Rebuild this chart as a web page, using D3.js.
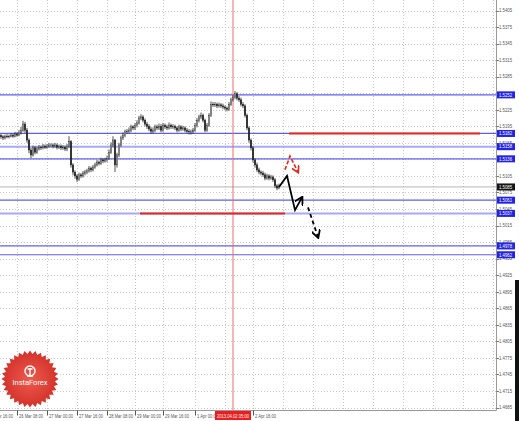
<!DOCTYPE html>
<html>
<head>
<meta charset="utf-8">
<script src="https://cdn.jsdelivr.net/npm/d3@7"></script>
<style>
  body { margin: 0; background: #fff; }
  svg { display: block; font-family: "Liberation Sans", Arial, sans-serif; }
</style>
</head>
<body>
<svg width="519" height="421"></svg>
<script>
  // GBPUSD bars, opens = previous close
  const firstOpen = 1.5178;
  const closes = [
    1.5176, 1.5174, 1.5177, 1.5176, 1.5177, 1.5179, 1.5177, 1.5181, 1.5179, 1.5183,
    1.5188, 1.5199, 1.5188, 1.5170, 1.5152, 1.5143, 1.5156, 1.5148, 1.5154, 1.5157,
    1.5156, 1.5159, 1.5157, 1.5159, 1.5161, 1.5161, 1.5159, 1.5161, 1.5157, 1.5159,
    1.5156, 1.5157, 1.5154, 1.5159, 1.5167, 1.5125, 1.5112, 1.5105, 1.5099, 1.5107,
    1.5105, 1.5110, 1.5112, 1.5114, 1.5119, 1.5116, 1.5121, 1.5125, 1.5130, 1.5128,
    1.5134, 1.5132, 1.5134, 1.5137, 1.5148, 1.5161, 1.5170, 1.5125, 1.5143, 1.5161,
    1.5174, 1.5179, 1.5185, 1.5186, 1.5188, 1.5194, 1.5192, 1.5197, 1.5201, 1.5210,
    1.5212, 1.5206, 1.5199, 1.5195, 1.5190, 1.5186, 1.5188, 1.5194, 1.5192, 1.5195,
    1.5188, 1.5197, 1.5194, 1.5192, 1.5197, 1.5194, 1.5195, 1.5192, 1.5188, 1.5194,
    1.5190, 1.5192, 1.5188, 1.5186, 1.5185, 1.5185, 1.5188, 1.5197, 1.5206, 1.5212,
    1.5215, 1.5206, 1.5188, 1.5197, 1.5215, 1.5235, 1.5234, 1.5235, 1.5232, 1.5234,
    1.5232, 1.5230, 1.5228, 1.5226, 1.5235, 1.5243, 1.5248, 1.5254, 1.5246, 1.5243,
    1.5235, 1.5232, 1.5215, 1.5192, 1.5170, 1.5156, 1.5134, 1.5125, 1.5116, 1.5112,
    1.5110, 1.5107, 1.5101, 1.5105, 1.5101, 1.5103, 1.5098, 1.5087, 1.5083, 1.5087
  ];
  const highs = [
    1.5181, 1.5179, 1.5180, 1.5181, 1.5180, 1.5183, 1.5182, 1.5185, 1.5184, 1.5188,
    1.5194, 1.5205, 1.5203, 1.5192, 1.5173, 1.5156, 1.5160, 1.5159, 1.5158, 1.5161,
    1.5160, 1.5163, 1.5162, 1.5163, 1.5165, 1.5164, 1.5164, 1.5165, 1.5164, 1.5162,
    1.5162, 1.5161, 1.5160, 1.5163, 1.5177, 1.5170, 1.5128, 1.5115, 1.5108, 1.5111,
    1.5110, 1.5114, 1.5116, 1.5118, 1.5123, 1.5122, 1.5125, 1.5129, 1.5134, 1.5133,
    1.5138, 1.5137, 1.5138, 1.5142, 1.5153, 1.5166, 1.5177, 1.5172, 1.5147, 1.5165,
    1.5178, 1.5184, 1.5189, 1.5190, 1.5193, 1.5198, 1.5197, 1.5201, 1.5206, 1.5214,
    1.5217, 1.5215, 1.5209, 1.5203, 1.5199, 1.5194, 1.5193, 1.5198, 1.5198, 1.5200,
    1.5199, 1.5201, 1.5200, 1.5198, 1.5202, 1.5200, 1.5199, 1.5198, 1.5195, 1.5198,
    1.5197, 1.5196, 1.5195, 1.5192, 1.5190, 1.5189, 1.5192, 1.5201, 1.5210, 1.5216,
    1.5220, 1.5218, 1.5209, 1.5201, 1.5219, 1.5240, 1.5239, 1.5239, 1.5238, 1.5238,
    1.5237, 1.5236, 1.5233, 1.5231, 1.5239, 1.5247, 1.5252, 1.5259, 1.5257, 1.5250,
    1.5247, 1.5239, 1.5235, 1.5218, 1.5195, 1.5173, 1.5159, 1.5137, 1.5129, 1.5120,
    1.5115, 1.5114, 1.5111, 1.5109, 1.5108, 1.5107, 1.5106, 1.5101, 1.5090, 1.5091
  ];
  const lows = [
    1.5172, 1.5170, 1.5171, 1.5173, 1.5173, 1.5175, 1.5174, 1.5175, 1.5176, 1.5177,
    1.5180, 1.5185, 1.5183, 1.5165, 1.5146, 1.5137, 1.5140, 1.5144, 1.5145, 1.5151,
    1.5152, 1.5153, 1.5154, 1.5154, 1.5156, 1.5157, 1.5155, 1.5156, 1.5153, 1.5154,
    1.5152, 1.5152, 1.5150, 1.5150, 1.5156, 1.5120, 1.5106, 1.5100, 1.5094, 1.5096,
    1.5101, 1.5102, 1.5106, 1.5108, 1.5111, 1.5112, 1.5113, 1.5118, 1.5122, 1.5124,
    1.5125, 1.5128, 1.5129, 1.5130, 1.5134, 1.5145, 1.5157, 1.5112, 1.5120, 1.5139,
    1.5158, 1.5170, 1.5175, 1.5181, 1.5182, 1.5184, 1.5188, 1.5188, 1.5193, 1.5198,
    1.5206, 1.5202, 1.5195, 1.5190, 1.5186, 1.5181, 1.5182, 1.5184, 1.5188, 1.5188,
    1.5184, 1.5185, 1.5190, 1.5188, 1.5189, 1.5190, 1.5190, 1.5188, 1.5184, 1.5185,
    1.5186, 1.5187, 1.5184, 1.5182, 1.5180, 1.5180, 1.5181, 1.5185, 1.5193, 1.5202,
    1.5208, 1.5202, 1.5184, 1.5185, 1.5194, 1.5212, 1.5230, 1.5230, 1.5228, 1.5229,
    1.5228, 1.5226, 1.5224, 1.5222, 1.5223, 1.5232, 1.5240, 1.5244, 1.5242, 1.5239,
    1.5231, 1.5228, 1.5211, 1.5188, 1.5165, 1.5151, 1.5129, 1.5120, 1.5112, 1.5108,
    1.5106, 1.5103, 1.5097, 1.5098, 1.5097, 1.5098, 1.5094, 1.5083, 1.5079, 1.5081
  ];

  const priceTicks = ['1.5405', '1.5375', '1.5345', '1.5315', '1.5285', '1.5255', '1.5225',
    '1.5195', '1.5165', '1.5135', '1.5105', '1.5075', '1.5045', '1.5015', '1.4985', '1.4955',
    '1.4925', '1.4895', '1.4865', '1.4835', '1.4805', '1.4775', '1.4745', '1.4715', '1.4685'];

  const timeLabels = ['25 Mar 16:00', '26 Mar 08:00', '27 Mar 00:00', '27 Mar 16:00', '28 Mar 08:00',
    '29 Mar 00:00', '29 Mar 16:00', '1 Apr 00:00', '2 Apr 16:00'];
  const timeBars = [-7, 8, 23, 38, 53, 67, 81, 97, 126];
  // grid columns keep going into the empty right side
  const gridBars = [8, 23, 38, 53, 67, 81, 97, 112, 126, 141, 156, 171, 186, 201, 216, 231, 246];

  // support / resistance levels
  const levels = [1.5252, 1.5182, 1.5158, 1.5136, 1.5061, 1.5037, 1.4978, 1.4962];
  const levelLabels = ['1.5252', '1.5182', '1.5158', '1.5136', '1.5061', '1.5037', '1.4978', '1.4962'];
  const bid = 1.5085;

  // red targets: [fromBar, toBar, price]
  const targets = [[144, 239.5, 1.5182], [69.5, 142, 1.5037]];

  // forecast paths: [bar, price]
  const forecastSolid = [[139, 1.5085], [143, 1.5105], [147, 1.5043], [150.5, 1.5066]];
  const forecastDashed = [[153.5, 1.5048], [158.5, 1.4994]];
  const forecastRed = [[142, 1.5116], [144.5, 1.5141], [148.5, 1.5112]];

  const markerBar = 116;
  const markerText = '2013.04.02 05:00';

  const svg = d3.select('svg');
  const width = +svg.attr('width');
  const height = +svg.attr('height');

  const plotRight = 496.5;
  const plotBottom = 410.5;

  const x = d3.scaleLinear().domain([0, 139]).range([1, 279]);
  const y = d3.scaleLinear().domain([1.4685, 1.5405]).range([407.5, 10.5]);

  svg.append('rect').attr('width', width).attr('height', height).attr('fill', '#fff');
  svg.append('rect').attr('x', 515).attr('y', 280).attr('width', 4).attr('height', height - 280).attr('fill', '#111');

  const defs = svg.append('defs');
  defs.append('clipPath').attr('id', 'plot')
    .append('rect').attr('width', plotRight).attr('height', plotBottom);
  ['black', 'red'].forEach(c => {
    defs.append('marker').attr('id', 'arrow-' + c)
      .attr('viewBox', '0 0 10 10').attr('refX', 8).attr('refY', 5)
      .attr('markerWidth', 5).attr('markerHeight', 5).attr('orient', 'auto')
      .append('path').attr('d', 'M0,0 L9,5 L0,10').attr('fill', 'none')
      .attr('stroke', c === 'red' ? '#e8261c' : '#000').attr('stroke-width', 2);
  });

  const plot = svg.append('g').attr('clip-path', 'url(#plot)');

  // grid
  plot.append('g').selectAll('line').data(priceTicks).enter().append('line')
    .attr('x1', 0).attr('x2', plotRight)
    .attr('y1', d => Math.round(y(+d)) + 0.5).attr('y2', d => Math.round(y(+d)) + 0.5)
    .attr('stroke', '#c8c8c8').attr('stroke-dasharray', '1,2');
  plot.append('g').selectAll('line').data(gridBars).enter().append('line')
    .attr('x1', d => Math.round(x(d)) + 0.5).attr('x2', d => Math.round(x(d)) + 0.5)
    .attr('y1', 0).attr('y2', plotBottom)
    .attr('stroke', '#c8c8c8').attr('stroke-dasharray', '1,2');

  // levels
  const light = new Set([1.5158, 1.5037]);
  plot.append('g').selectAll('line').data(levels).enter().append('line')
    .attr('x1', 0).attr('x2', plotRight)
    .attr('y1', d => y(d)).attr('y2', d => y(d))
    .attr('stroke', d => light.has(d) ? '#a8a8f8' : '#6060f0')
    .attr('stroke-width', d => light.has(d) ? 2 : 1.2);

  // bid line
  plot.append('line').attr('x1', 0).attr('x2', plotRight)
    .attr('y1', y(bid)).attr('y2', y(bid)).attr('stroke', '#b4b4b4');

  // red vertical marker
  plot.append('line').attr('x1', x(markerBar)).attr('x2', x(markerBar))
    .attr('y1', 0).attr('y2', plotBottom).attr('stroke', '#f26a6a').attr('stroke-width', 1);

  // target lines
  plot.append('g').selectAll('line').data(targets).enter().append('line')
    .attr('x1', d => x(d[0])).attr('x2', d => x(d[1]))
    .attr('y1', d => y(d[2])).attr('y2', d => y(d[2]))
    .attr('stroke', '#e8261c').attr('stroke-width', 2);

  // candles
  const bars = closes.map((c, i) => ({
    i, o: i === 0 ? firstOpen : closes[i - 1], c, h: highs[i], l: lows[i]
  }));
  const cg = plot.append('g');
  cg.selectAll('line').data(bars).enter().append('line')
    .attr('x1', d => x(d.i)).attr('x2', d => x(d.i))
    .attr('y1', d => y(d.h)).attr('y2', d => y(d.l))
    .attr('stroke', '#2a2a2a').attr('stroke-width', 0.8);
  cg.selectAll('rect').data(bars).enter().append('rect')
    .attr('x', d => x(d.i) - 0.7).attr('width', 1.4)
    .attr('y', d => y(Math.max(d.o, d.c)))
    .attr('height', d => Math.max(0.6, Math.abs(y(d.o) - y(d.c))))
    .attr('fill', d => d.c >= d.o ? '#fff' : '#222')
    .attr('stroke', '#222').attr('stroke-width', 0.5);

  // forecast arrows
  const line = d3.line().x(d => x(d[0])).y(d => y(d[1]));
  plot.append('path').attr('d', line(forecastSolid)).attr('fill', 'none')
    .attr('stroke', '#000').attr('stroke-width', 1.8).attr('marker-end', 'url(#arrow-black)');
  plot.append('path').attr('d', line(forecastDashed)).attr('fill', 'none')
    .attr('stroke', '#000').attr('stroke-width', 1.8).attr('stroke-dasharray', '4,3')
    .attr('marker-end', 'url(#arrow-black)');
  plot.append('path').attr('d', line(forecastRed)).attr('fill', 'none')
    .attr('stroke', '#e8261c').attr('stroke-width', 1.6).attr('stroke-dasharray', '4,2')
    .attr('marker-end', 'url(#arrow-red)');

  // frame
  svg.append('line').attr('x1', plotRight).attr('x2', plotRight).attr('y1', 0).attr('y2', plotBottom)
    .attr('stroke', '#9a9a9a');
  svg.append('line').attr('x1', 0).attr('x2', plotRight).attr('y1', plotBottom).attr('y2', plotBottom)
    .attr('stroke', '#9a9a9a');

  // level / bid boxes
  const boxes = levels.map((v, k) => ({ v, t: levelLabels[k], bg: '#2323e6' }))
    .concat([{ v: bid, t: bid.toFixed(4), bg: '#151515' }]);

  // price axis (labels fully under a box are not drawn)
  const shownTicks = priceTicks.filter(t => !boxes.some(b => Math.abs(y(+t) - y(b.v)) < 3.5));
  const pa = svg.append('g');
  pa.selectAll('line').data(priceTicks).enter().append('line')
    .attr('x1', plotRight).attr('x2', plotRight + 2.5)
    .attr('y1', d => Math.round(y(+d)) + 0.5).attr('y2', d => Math.round(y(+d)) + 0.5)
    .attr('stroke', '#777');
  pa.selectAll('text').data(shownTicks).enter().append('text')
    .attr('x', 499).attr('y', d => y(+d) + 1.8)
    .attr('font-size', 5).attr('textLength', 13).attr('lengthAdjust', 'spacingAndGlyphs')
    .attr('fill', '#555').text(d => d);

  const lab = svg.append('g');
  lab.selectAll('rect').data(boxes).enter().append('rect')
    .attr('x', 497).attr('width', 18).attr('y', d => y(d.v) - 3.5).attr('height', 7)
    .attr('fill', d => d.bg);
  lab.selectAll('text').data(boxes).enter().append('text')
    .attr('x', 499).attr('y', d => y(d.v) + 1.8)
    .attr('font-size', 5).attr('textLength', 13).attr('lengthAdjust', 'spacingAndGlyphs')
    .attr('fill', '#fff').text(d => d.t);

  // time axis
  const ta = svg.append('g');
  ta.selectAll('line').data(timeBars).enter().append('line')
    .attr('x1', d => Math.round(x(d)) + 0.5).attr('x2', d => Math.round(x(d)) + 0.5)
    .attr('y1', plotBottom).attr('y2', plotBottom + 5).attr('stroke', '#555');
  ta.selectAll('text').data(timeLabels).enter().append('text')
    .attr('x', (d, k) => x(timeBars[k]) + 2).attr('y', 418)
    .attr('font-size', 5).attr('textLength', d => d.length > 11 ? 24 : 21)
    .attr('lengthAdjust', 'spacingAndGlyphs')
    .attr('fill', '#555').text(d => d);

  const mx = x(markerBar);
  svg.append('rect').attr('x', mx - 18).attr('y', 411).attr('width', 36).attr('height', 9)
    .attr('fill', '#ee1c1c');
  svg.append('text').attr('x', mx - 16).attr('y', 418)
    .attr('font-size', 5).attr('textLength', 32).attr('lengthAdjust', 'spacingAndGlyphs')
    .attr('fill', '#fff').text(markerText);

  // InstaForex badge
  const logo = svg.append('g').attr('transform', 'translate(30,379)');
  const grad = defs.append('radialGradient').attr('id', 'lg');
  grad.append('stop').attr('offset', '0%').attr('stop-color', '#ef5a4c');
  grad.append('stop').attr('offset', '100%').attr('stop-color', '#d2322b');
  const star = d3.range(64).map(k => [k * Math.PI / 32, k % 2 ? 25 : 28.5]);
  logo.append('path').attr('d', d3.lineRadial().curve(d3.curveLinearClosed)(star))
    .attr('fill', 'url(#lg)');
  logo.append('circle').attr('cy', -8).attr('r', 5).attr('fill', 'none')
    .attr('stroke', '#fff').attr('stroke-width', 1.4);
  logo.append('path').attr('d', 'M-2.5,-10 L2.5,-10 M0,-11 L0,-3 M-3,-3 L3,-3')
    .attr('stroke', '#fff').attr('stroke-width', 1.4);
  logo.append('text').attr('y', 6).attr('text-anchor', 'middle')
    .attr('font-size', 7.5).attr('font-family', 'Roboto, sans-serif')
    .attr('fill', '#fff').text('InstaForex');
</script>
</body>
</html>
